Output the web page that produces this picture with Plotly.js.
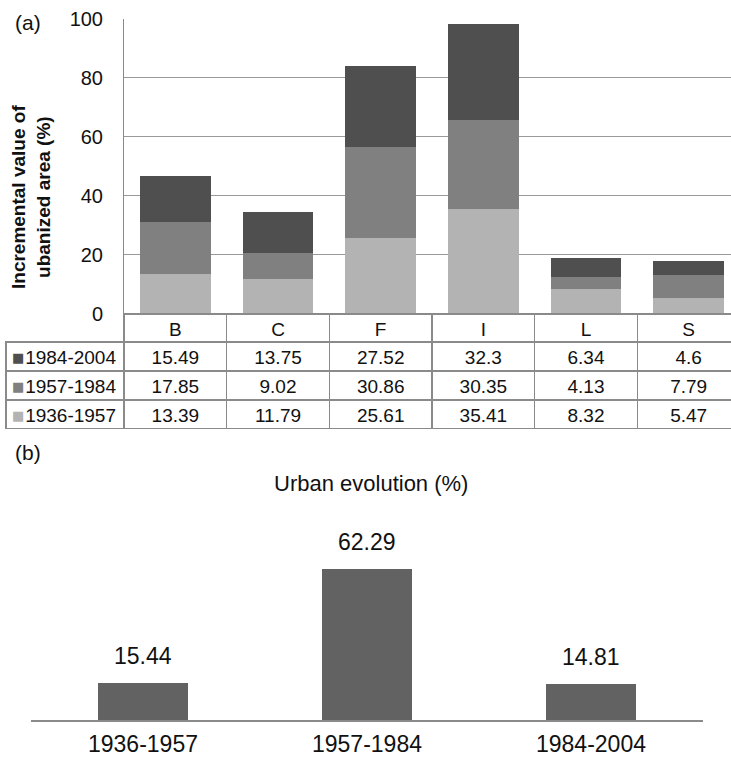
<!DOCTYPE html>
<html>
<head>
<meta charset="utf-8">
<script src="https://cdn.plot.ly/plotly-3.0.1.min.js"></script>
<style>
  html, body { margin: 0; padding: 0; overflow: hidden; background: #fff; }
  #chart { width: 740px; height: 757px; }
</style>
</head>
<body>
<div id="chart"></div>
<script>
// ---- data ----
const categories = ['B', 'C', 'F', 'I', 'L', 'S'];
const seriesNames = ['1984-2004', '1957-1984', '1936-1957'];
const s1936_1957 = [13.39, 11.79, 25.61, 35.41, 8.32, 5.47];
const s1957_1984 = [17.85, 9.02, 30.86, 30.35, 4.13, 7.79];
const s1984_2004 = [15.49, 13.75, 27.52, 32.3, 6.34, 4.6];
const periods = ['1936-1957', '1957-1984', '1984-2004'];
const urbanEvolution = [15.44, 62.29, 14.81];

// ---- styles ----
const FONT = 'Liberation Sans, Arial, sans-serif';
const cLight = '#b3b3b3', cMid = '#808080', cDark = '#4f4f4f';
const gridC = '#999999', lineC = '#8a8a8a';
const W = 740, H = 757;
const px = v => v / W, py = v => 1 - v / H;

const traces = [
  { type: 'bar', x: categories, y: s1936_1957, name: '1936-1957', marker: { color: cLight }, width: 0.69, xaxis: 'x', yaxis: 'y' },
  { type: 'bar', x: categories, y: s1957_1984, name: '1957-1984', marker: { color: cMid }, width: 0.69, xaxis: 'x', yaxis: 'y' },
  { type: 'bar', x: categories, y: s1984_2004, name: '1984-2004', marker: { color: cDark }, width: 0.69, xaxis: 'x', yaxis: 'y' },
  { type: 'bar', x: periods, y: urbanEvolution, marker: { color: '#626262' }, width: 0.4, xaxis: 'x2', yaxis: 'y2' }
];

// data table under chart (a)
const seriesValues = { '1984-2004': s1984_2004, '1957-1984': s1957_1984, '1936-1957': s1936_1957 };
const seriesColors = { '1984-2004': cDark, '1957-1984': cMid, '1936-1957': cLight };
const tableCols = [seriesNames].concat(categories.map((c, i) => seriesNames.map(n => String(seriesValues[n][i]))));
const colW = [118].concat(categories.map(() => 616 / 6));
const TABLE_TOP = 314, HEAD_H = 28, ROW_H = 29;

traces.push({
  type: 'table',
  domain: { x: [px(6), 1], y: [py(TABLE_TOP + HEAD_H + 3 * ROW_H + 1), py(TABLE_TOP)] },
  columnwidth: colW,
  header: {
    values: [''].concat(categories),
    height: HEAD_H,
    align: 'center',
    fill: { color: ['rgba(0,0,0,0)'].concat(categories.map(() => 'white')) },
    line: { color: ['rgba(0,0,0,0)'].concat(categories.map(() => lineC)), width: 1.2 },
    font: { family: FONT, size: 19, color: '#111' }
  },
  cells: {
    values: tableCols,
    height: ROW_H,
    align: ['right'].concat(categories.map(() => 'center')),
    fill: { color: 'white' },
    line: { color: lineC, width: 1.2 },
    font: { family: FONT, size: 19, color: '#111' }
  }
});

const annotations = [
  { text: '(a)', x: px(28), y: py(22), xref: 'paper', yref: 'paper', xanchor: 'center', yanchor: 'middle', showarrow: false, font: { family: FONT, size: 21, color: '#111' } },
  { text: '(b)', x: px(28), y: py(452), xref: 'paper', yref: 'paper', xanchor: 'center', yanchor: 'middle', showarrow: false, font: { family: FONT, size: 21, color: '#111' } },
  { text: '<b>Incremental value of<br>ubanized area (%)</b>', x: px(31), y: py(197), xref: 'paper', yref: 'paper',
    xanchor: 'center', yanchor: 'middle', textangle: -90, showarrow: false, font: { family: FONT, size: 19, color: '#111' } },
  { text: 'Urban evolution (%)', x: px(371), y: py(483), xref: 'paper', yref: 'paper', xanchor: 'center', yanchor: 'middle', showarrow: false,
    font: { family: FONT, size: 22, color: '#111' } }
];
// legend keys in the first table column
seriesNames.forEach((n, r) => {
  annotations.push({ text: '■', x: px(17.5), y: py(TABLE_TOP + HEAD_H + ROW_H * (r + 0.5) + 1), xref: 'paper', yref: 'paper',
    xanchor: 'center', yanchor: 'middle', showarrow: false, font: { family: 'DejaVu Sans', size: 13, color: seriesColors[n] } });
});
periods.forEach((p, i) => {
  annotations.push({ text: String(urbanEvolution[i]), x: p, y: urbanEvolution[i], xref: 'x2', yref: 'y2',
    xanchor: 'center', yanchor: 'bottom', yshift: 12, showarrow: false, font: { family: FONT, size: 23, color: '#111' } });
});

const layout = {
  width: W, height: H,
  margin: { l: 0, r: 0, t: 0, b: 0 },
  paper_bgcolor: 'white', plot_bgcolor: 'white',
  barmode: 'stack',
  showlegend: false,
  hovermode: false,
  xaxis: { domain: [px(124), 1], anchor: 'y', showticklabels: false, ticks: '', showgrid: false, zeroline: false, showline: false, fixedrange: true },
  yaxis: { domain: [py(314), py(18.5)], anchor: 'x', range: [0, 100], dtick: 20, showgrid: true, gridcolor: gridC, gridwidth: 1,
    zeroline: true, zerolinecolor: gridC, showline: true, linecolor: lineC, linewidth: 1, ticks: '',
    ticklabelstandoff: 16, tickfont: { family: FONT, size: 20, color: '#111' }, fixedrange: true },
  xaxis2: { domain: [px(31), px(703)], anchor: 'y2', showline: true, linecolor: '#8a8a8a', linewidth: 1.5, ticks: '',
    showgrid: false, zeroline: false, ticklabelstandoff: 3, tickfont: { family: FONT, size: 23, color: '#111' }, fixedrange: true },
  yaxis2: { domain: [py(720), py(550)], anchor: 'x2', range: [0, 70], visible: false, fixedrange: true },
  annotations: annotations
};

Plotly.newPlot('chart', traces, layout, { displayModeBar: false, staticPlot: true });
</script>
</body>
</html>
